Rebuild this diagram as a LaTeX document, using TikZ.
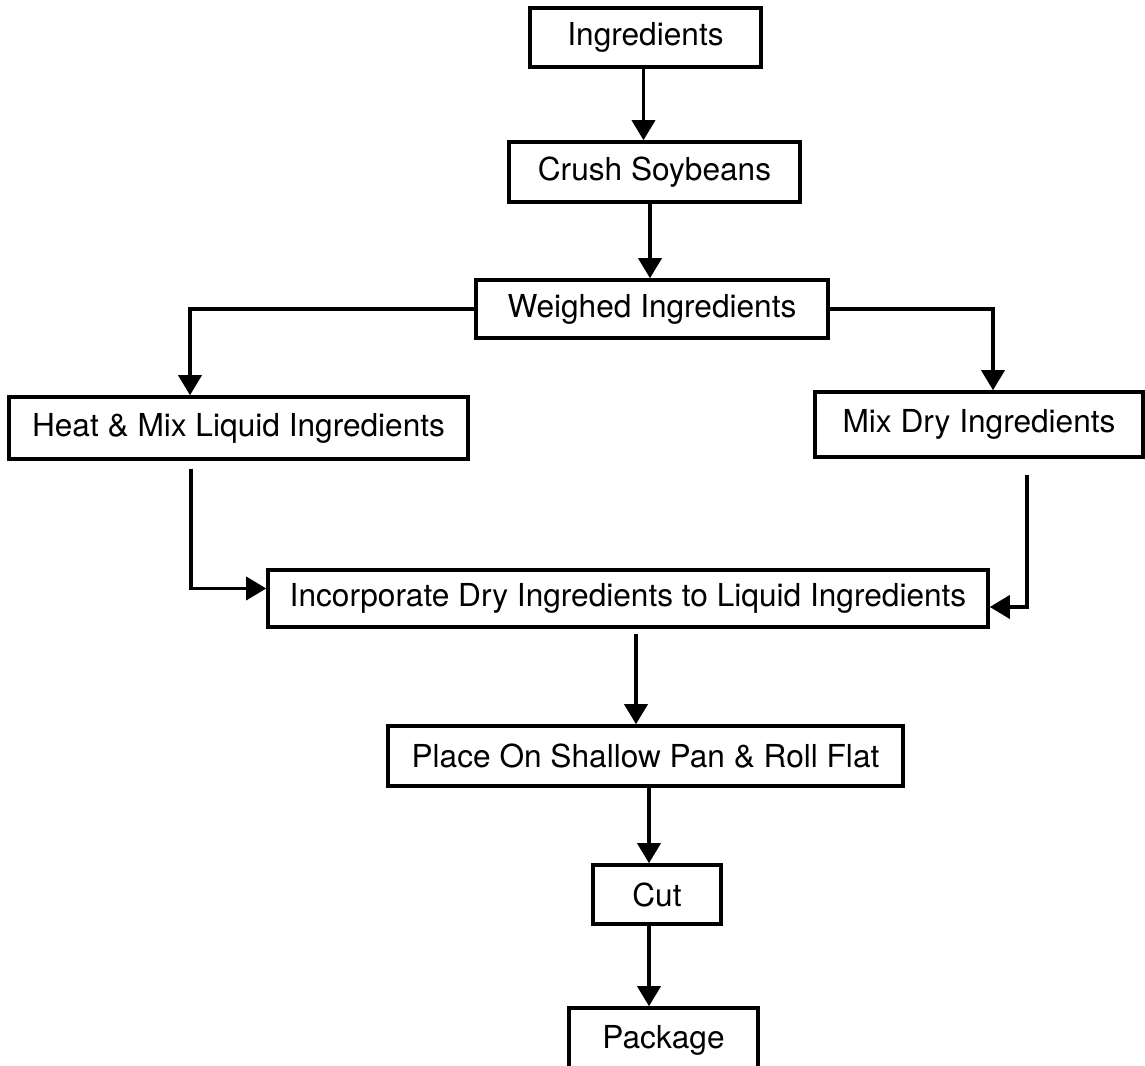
\documentclass[tikz,border=0pt]{standalone}
\usepackage{fontspec}
\setmainfont{TeX Gyre Heros}
\usetikzlibrary{arrows.meta}
\begin{document}
\begin{tikzpicture}[
  box/.style={draw, line width=1pt, inner sep=0pt, font=\fontsize{9}{11}\selectfont},
  arr/.style={draw, line width=1pt, -{Triangle[length=2mm,width=2.3mm]}}]
\useasboundingbox (0,0) rectangle (11.45,-10.66);
\node[box, minimum width=2.31cm, minimum height=0.59cm] (1) at (6.455,-0.375) {Ingredients};
\node[box, minimum width=2.91cm, minimum height=0.60cm] (2) at (6.545,-1.72) {Crush Soybeans};
\node[box, minimum width=3.52cm, minimum height=0.58cm] (3) at (6.52,-3.09) {Weighed Ingredients};
\node[box, minimum width=4.59cm, minimum height=0.62cm] (4) at (2.385,-4.28) {Heat \& Mix Liquid Ingredients};
\node[box, minimum width=3.28cm, minimum height=0.65cm] (5) at (9.79,-4.245) {Mix Dry Ingredients};
\node[box, minimum width=7.20cm, minimum height=0.57cm] (6) at (6.28,-5.985) {Incorporate Dry Ingredients to Liquid Ingredients};
\node[box, minimum width=5.15cm, minimum height=0.60cm] (7) at (6.455,-7.56) {Place On Shallow Pan \& Roll Flat};
\node[box, minimum width=1.28cm, minimum height=0.59cm] (8) at (6.57,-8.945) {Cut};
\node[box, minimum width=1.89cm, minimum height=0.65cm] (9) at (6.635,-10.405) {Package};

\path[arr] ([xshift=-0.02cm]1.south) -- ([xshift=-0.02cm]1.south |- 2.north);
\path[arr] ([xshift=-0.045cm]2.south) -- ([xshift=-0.045cm]2.south |- 3.north);
\path[arr] (3.west) -| ([xshift=-0.485cm]4.north);
\path[arr] (3.east) -| ([xshift=0.14cm]5.north);
\path[arr, shorten <=0.08cm] ([xshift=-0.475cm]4.south) |- ([yshift=0.1cm]6.west);
\path[arr, shorten <=0.16cm] ([xshift=0.48cm]5.south) |- ([yshift=-0.085cm]6.east);
\path[arr, shorten <=0.05cm] ([xshift=0.08cm]6.south) -- ([xshift=0.08cm]6.south |- 7.north);
\path[arr] ([xshift=0.035cm]7.south) -- ([xshift=0.035cm]7.south |- 8.north);
\path[arr] ([xshift=-0.08cm]8.south) -- ([xshift=-0.08cm]8.south |- 9.north);
\end{tikzpicture}
\end{document}
